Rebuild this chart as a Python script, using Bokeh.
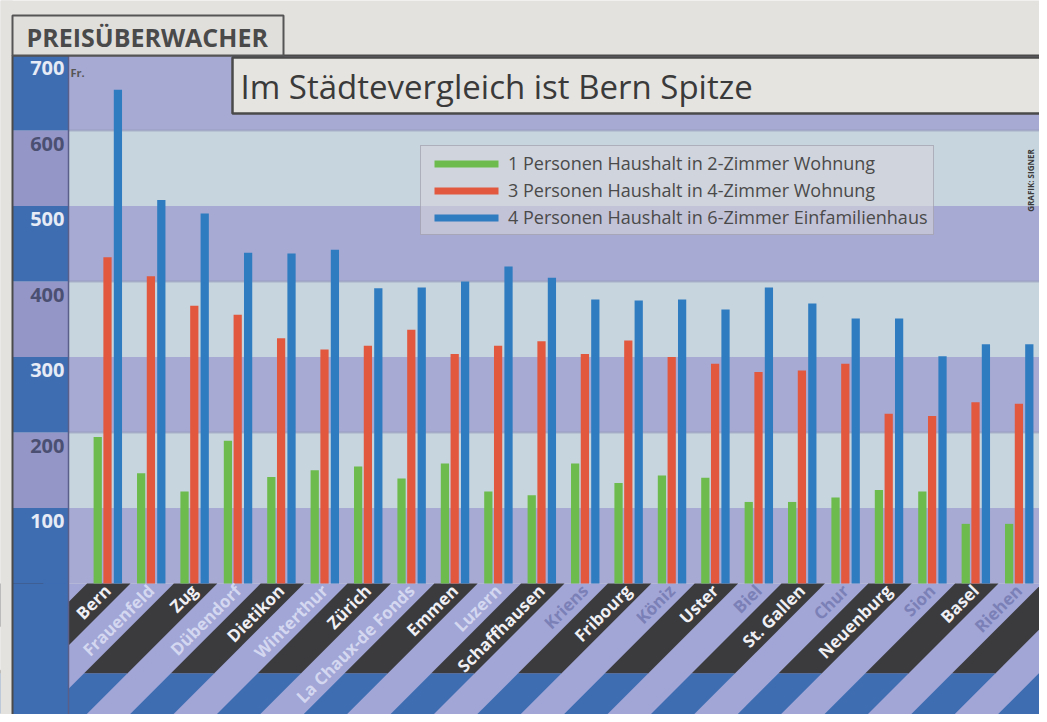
import math
from bokeh.plotting import figure
from bokeh.models import Range1d, LinearAxis, FixedTicker, Legend, LegendItem
from bokeh.core.properties import value
from bokeh.embed import file_html
from bokeh.resources import INLINE

# ---------------- data ----------------
cities = ["Bern", "Frauenfeld", "Zug", "Dübendorf", "Dietikon", "Winterthur",
          "Zürich", "La Chaux-de Fonds", "Emmen", "Luzern", "Schaffhausen",
          "Kriens", "Fribourg", "Köniz", "Uster", "Biel", "St. Gallen", "Chur",
          "Neuenburg", "Sion", "Basel", "Riehen"]
one_person = [194, 146, 122, 189, 141, 150, 155, 139, 159, 122, 117,
              159, 133, 143, 140, 108, 108, 114, 124, 122, 79, 79]
three_person = [432, 407, 368, 356, 325, 310, 315, 336, 304, 315, 321,
                304, 322, 300, 291, 280, 282, 291, 225, 222, 240, 238]
four_person = [654, 508, 490, 438, 437, 442, 391, 392, 400, 420, 405,
               376, 375, 376, 363, 392, 371, 351, 351, 301, 317, 317]
y_ticks = [100, 200, 300, 400, 500, 600, 700]
series_labels = ["1 Personen Haushalt in 2-Zimmer Wohnung",
                 "3 Personen Haushalt in 4-Zimmer Wohnung",
                 "4 Personen Haushalt in 6-Zimmer Einfamilienhaus"]
title_text = "Im Städtevergleich ist Bern Spitze"
tab_text = "PREISÜBERWACHER"
unit_text = "Fr."
credit_text = "GRAFIK: SIGNER"

# ---------------- geometry (canvas pixels -> data) ----------------
W, H = 1039, 714
PX_CAT = 43.4      # px per city group
X_FIRST = 107.0    # px of first group centre
PX_VAL = 0.755     # px per Franken
Y_ZERO = 583.0     # px of value 0


def fx(X):
    return (X - X_FIRST) / PX_CAT


def fy(Y):
    return (Y_ZERO - Y) / PX_VAL


PAPER = "#e4e2df"
LAV = "#a7aad3"
LIGHT = "#c7d5de"
STRIP_BLUE = "#3e6db2"
STRIP_LAV = "#9496c8"
DARK = "#3b3b3e"
BORDER = "#4a4a4a"
GREEN = "#6dbb4c"
RED = "#e2583f"
BLUE = "#2f7cc0"

p = figure(width=W, height=H, x_range=Range1d(fx(0), fx(W)),
           y_range=Range1d(fy(H), fy(0)),
           x_axis_type=None, y_axis_type=None,
           output_backend="svg", toolbar_location=None,
           min_border=0, min_border_left=0, min_border_right=0,
           min_border_top=0, min_border_bottom=0,
           background_fill_color=PAPER, border_fill_color=PAPER,
           outline_line_color=None)
p.grid.visible = False

PLOT_L, PLOT_R = 68, 1100
STRIP_L = 12
TOP = 55
BOT = 715
MID = 673

# ---- plot bands ----
edges = [0] + y_ticks
for i in range(len(edges) - 1):
    lo, hi = edges[i], edges[i + 1]
    top = hi if i < len(edges) - 2 else fy(TOP)
    p.quad(left=fx(PLOT_L), right=fx(PLOT_R), bottom=lo, top=top,
           fill_color=LAV if i % 2 == 0 else LIGHT, line_color=None)
    sb = fy(BOT) if i == 0 else lo
    p.quad(left=fx(STRIP_L), right=fx(PLOT_L), bottom=sb, top=top,
           fill_color=STRIP_BLUE if i % 2 == 0 else STRIP_LAV, line_color=None)
for i in range(1, len(edges) - 1, 2):
    p.segment(x0=fx(PLOT_L), x1=fx(PLOT_R), y0=edges[i + 1], y1=edges[i + 1],
              line_color="#8e97b6", line_alpha=0.55, line_width=2)

# ---- bottom stripes ----
p.quad(left=fx(PLOT_L), right=fx(PLOT_R), bottom=fy(BOT), top=0,
       fill_color="#a2a6d6", line_color=None)
dark_xs, dark_ys, blue_xs, blue_ys = [], [], [], []
for k in range(-4, 28, 2):
    bl = 130 + PX_CAT * (k - 1)
    br = 130 + PX_CAT * k

    def poly(Ya, Yb):
        sa, sb_ = Ya - Y_ZERO, Yb - Y_ZERO
        xs = [fx(bl - sa), fx(br - sa), fx(br - sb_), fx(bl - sb_)]
        ys = [fy(Ya), fy(Ya), fy(Yb), fy(Yb)]
        return xs, ys
    a, b = poly(Y_ZERO, MID)
    dark_xs.append(a); dark_ys.append(b)
    a, b = poly(MID, BOT)
    blue_xs.append(a); blue_ys.append(b)
p.patches(dark_xs, dark_ys, fill_color=DARK, line_color=None)
p.patches(blue_xs, blue_ys, fill_color=STRIP_BLUE, line_color=None)
p.quad(left=fx(STRIP_L), right=fx(PLOT_L), bottom=fy(BOT), top=0,
       fill_color=STRIP_BLUE, line_color=None)
p.quad(left=fx(-20), right=fx(STRIP_L), bottom=fy(800), top=fy(-20),
       fill_color=PAPER, line_color=None)
p.quad(left=fx(-20), right=fx(1100), bottom=fy(800), top=fy(BOT),
       fill_color=PAPER, line_color=None)
p.segment(x0=fx(PLOT_L), x1=fx(PLOT_L), y0=fy(BOT), y1=fy(TOP),
          line_color="#5a5f8a", line_width=1.5)

# ---- bars ----
idx = list(range(len(cities)))
bw = 0.19
r1 = p.vbar(x=[i - 0.225 for i in idx], top=one_person, bottom=0, width=bw,
            fill_color=GREEN, line_color=None)
r2 = p.vbar(x=idx, top=three_person, bottom=0, width=bw,
            fill_color=RED, line_color=None)
r3 = p.vbar(x=[i + 0.24 for i in idx], top=four_person, bottom=0, width=bw,
            fill_color=BLUE, line_color=None)

# ---- frame border ----
p.quad(left=fx(STRIP_L), right=fx(1100), bottom=fy(BOT), top=fy(TOP),
       fill_color=None, line_color=BORDER, line_width=2)

# ---- x axes (city labels on diagonal stripes) ----
groups = [
    ([i for i in idx if i % 2 == 0], "#f0f0f4"),
    ([i for i in idx if i % 2 == 1 and i < 11], "#d4d7f0"),
    ([i for i in idx if i % 2 == 1 and i >= 11], "#7b80b6"),
]
for ticks, col in groups:
    ax = LinearAxis(ticker=FixedTicker(ticks=ticks),
                    major_label_overrides={i: cities[i] for i in ticks},
                    fixed_location=0, axis_line_color=None,
                    major_tick_line_color=None, minor_tick_line_color=None,
                    major_tick_in=0, major_tick_out=0,
                    major_label_standoff=4,
                    major_label_orientation=math.pi / 4,
                    major_label_text_color=col,
                    major_label_text_font="Open Sans",
                    major_label_text_font_style="bold",
                    major_label_text_font_size="17px")
    p.add_layout(ax, "below")

# ---- y axes (values in the blue strip) ----
shift = 13 / PX_VAL
p.extra_y_ranges = {"lab": Range1d(fy(H) + shift, fy(0) + shift)}
for ticks, col in [([100, 300, 500, 700], "#e6ebf5"), ([200, 400, 600], "#4b5072")]:
    ay = LinearAxis(y_range_name="lab", ticker=FixedTicker(ticks=ticks),
                    fixed_location=fx(66), axis_line_color=None,
                    major_tick_line_color=None, minor_tick_line_color=None,
                    major_tick_in=0, major_tick_out=0,
                    major_label_standoff=2,
                    major_label_text_color=col,
                    major_label_text_font="Open Sans",
                    major_label_text_font_style="bold",
                    major_label_text_font_size="20px")
    p.add_layout(ay, "left")

# ---- header tab & title box ----
p.quad(left=fx(STRIP_L), right=fx(283), bottom=fy(TOP), top=fy(15),
       fill_color="#e1dfdc", line_color="#555555", line_width=2)
p.text(x=[fx(26)], y=[fy(36)], text=[tab_text], text_font=value("Open Sans"),
       text_font_style="bold", text_font_size="25px", text_color="#4a4a4a",
       text_align="left", text_baseline="middle")
p.quad(left=fx(232), right=fx(1100), bottom=fy(113), top=fy(57),
       fill_color="#e6e4e1", line_color=BORDER, line_width=2.5)
p.text(x=[fx(240)], y=[fy(86)], text=[title_text], text_font=value("Open Sans"),
       text_font_size="33px", text_color="#3a3a3a",
       text_align="left", text_baseline="middle")
p.text(x=[fx(70)], y=[fy(72)], text=[unit_text], text_font=value("Open Sans"),
       text_font_style="bold", text_font_size="11px", text_color="#555555",
       text_align="left", text_baseline="middle")
p.text(x=[fx(1030)], y=[fy(180)], text=[credit_text], text_font=value("Open Sans"),
       text_font_style="bold", text_font_size="8px", text_color="#3a3a3a",
       text_align="center", text_baseline="middle", angle=math.pi / 2)

# ---- legend ----
legend = Legend(items=[LegendItem(label=series_labels[0], renderers=[r1]),
                       LegendItem(label=series_labels[1], renderers=[r2]),
                       LegendItem(label=series_labels[2], renderers=[r3])],
                location=(420, H - 235),
                glyph_width=80, glyph_height=9, label_standoff=2,
                label_height=20, spacing=3, padding=5, margin=0,
                label_text_font="Open Sans", label_text_font_size="18px",
                label_text_color="#4a4a4a",
                background_fill_color="#d6d4da", background_fill_alpha=0.6,
                border_line_color="#8a8a9a", border_line_width=1.5)
p.add_layout(legend, "center")

open("out.html", "w").write(file_html(p, INLINE))
